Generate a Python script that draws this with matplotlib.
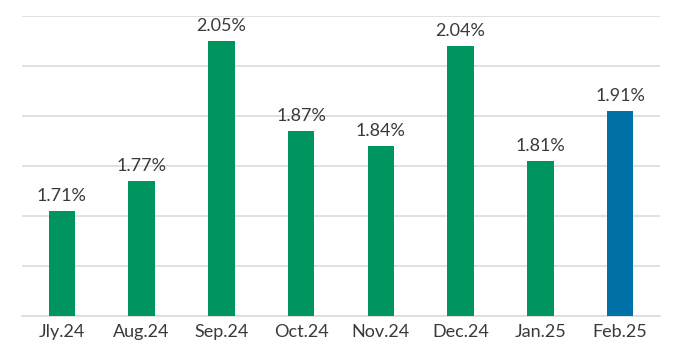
import matplotlib
matplotlib.use("Agg")
import matplotlib.pyplot as plt

categories = ["Jly.24", "Aug.24", "Sep.24", "Oct.24", "Nov.24", "Dec.24", "Jan.25", "Feb.25"]
values = [1.71, 1.77, 2.05, 1.87, 1.84, 2.04, 1.81, 1.91]
labels = ["1.71%", "1.77%", "2.05%", "1.87%", "1.84%", "2.04%", "1.81%", "1.91%"]
colors = ["#00955F"] * 7 + ["#0071A6"]
y_ticks = [1.5, 1.6, 1.7, 1.8, 1.9, 2.0, 2.1]

plt.rcParams['font.family'] = ['Lato', 'DejaVu Sans']

fig = plt.figure(figsize=(7, 3.55), dpi=100)
ax = fig.add_axes([22/700, 1 - 316/355, (660 - 22)/700, 300/355])

x = range(len(categories))
ax.bar(x, values, width=0.33, color=colors, zorder=3)
for xi, v, lab in zip(x, values, labels):
    ax.annotate(lab, (xi, v), xytext=(0, 5), textcoords="offset points",
                ha="center", va="bottom", fontsize=13, color="#3a3a3a")

ax.set_ylim(1.5, 2.1)
ax.set_xlim(-0.5, len(categories) - 0.5)
ax.set_yticks(y_ticks)
ax.yaxis.grid(True, color="#dcdcdc", linewidth=1.2, zorder=0)
ax.tick_params(axis="y", left=False, labelleft=False)
ax.set_xticks(list(x))
ax.set_xticklabels(categories, fontsize=13, color="#3a3a3a")
ax.tick_params(axis="x", length=0, pad=6)
for s in ["top", "right", "left"]:
    ax.spines[s].set_visible(False)
ax.spines["bottom"].set_color("#dcdcdc")
ax.spines["bottom"].set_linewidth(1.2)

fig.savefig("out.png", dpi=100, facecolor="white")
